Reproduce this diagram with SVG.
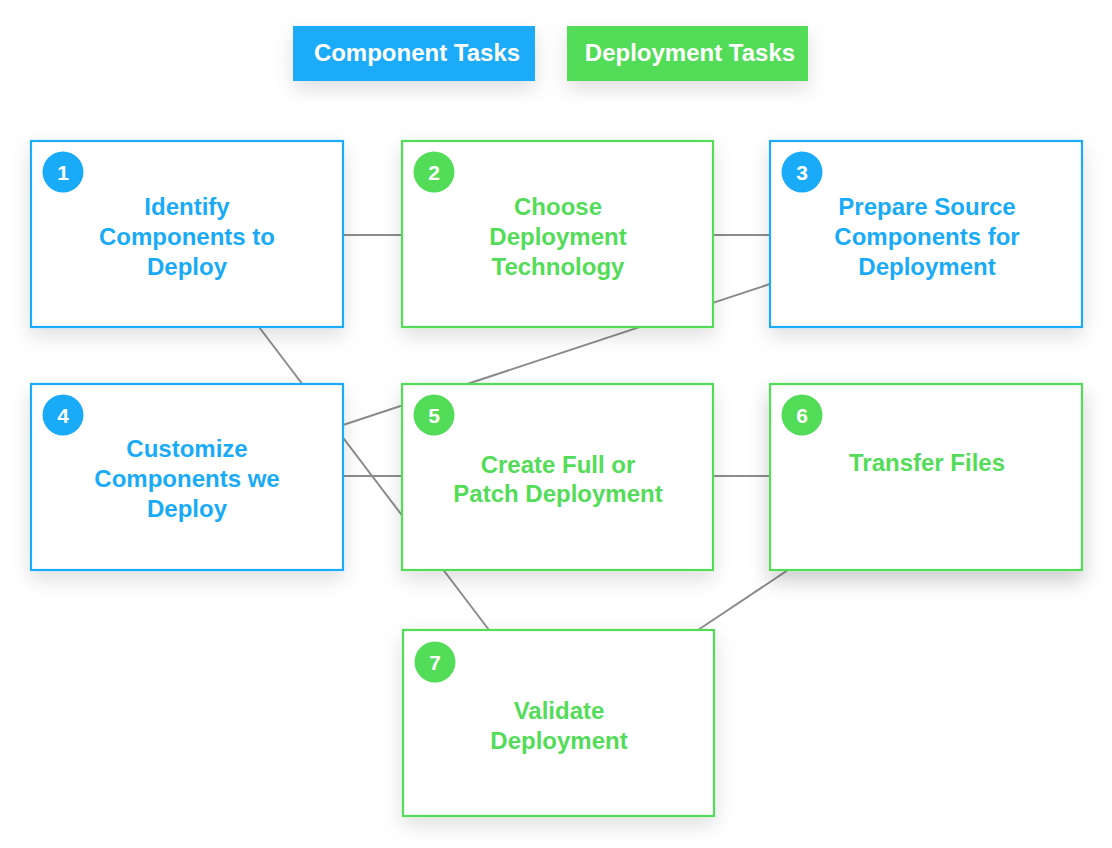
<svg xmlns="http://www.w3.org/2000/svg" width="1112" height="848" viewBox="0 0 1112 848">
<defs>
<filter id="sh" x="-20%" y="-20%" width="140%" height="160%">
<feDropShadow dx="0" dy="8" stdDeviation="10" flood-color="#000" flood-opacity="0.13"/>
</filter>
<filter id="sh2" x="-20%" y="-20%" width="140%" height="160%">
<feDropShadow dx="0" dy="10" stdDeviation="10" flood-color="#000" flood-opacity="0.2"/>
</filter>
<style>
.box{fill:#fff;stroke-width:2.2}
.b{stroke:#1aabf8}
.g{stroke:#53dc58}
.lbl{font-family:"Liberation Sans",Arial,sans-serif;font-weight:bold;font-size:24px;text-anchor:middle}
.tb{fill:#1aabf8}
.tg{fill:#53dc58}
.num{font-family:"Liberation Sans",Arial,sans-serif;font-weight:bold;font-size:21px;fill:#fff;text-anchor:middle}
.cb{fill:#1aabf8}
.cg{fill:#53dc58}
.leg{font-family:"Liberation Sans",Arial,sans-serif;font-weight:bold;font-size:24px;fill:#fff;text-anchor:middle}
.ln{stroke:#8c8c8c;stroke-width:2;fill:none}
</style>
</defs>
<rect width="1112" height="848" fill="#fff"/>
<g id="legend">
<rect x="293" y="26" width="242" height="55" fill="#1aabf8" filter="url(#sh)"/>
<text class="leg" x="417" y="61">Component Tasks</text>
<rect x="567" y="26" width="241" height="55" fill="#53dc58" filter="url(#sh)"/>
<text class="leg" x="690" y="61">Deployment Tasks</text>
</g>
<g id="connectors">
<line class="ln" x1="343" y1="235" x2="402" y2="235"/>
<line class="ln" x1="713" y1="235" x2="770" y2="235"/>
<line class="ln" x1="770" y1="284" x2="343" y2="425"/>
<line class="ln" x1="259" y1="327" x2="489" y2="630"/>
<line class="ln" x1="343" y1="476" x2="402" y2="476"/>
<line class="ln" x1="713" y1="476" x2="770" y2="476"/>
<line class="ln" x1="788" y1="570" x2="698" y2="630"/>
</g>
<g id="node1">
<rect class="box b" x="31" y="141" width="312" height="186" filter="url(#sh)"/>
<circle class="cb" cx="63" cy="172" r="20.5"/>
<text class="num" x="63" y="179.5">1</text>
<text class="lbl tb" x="187" y="215">Identify</text>
<text class="lbl tb" x="187" y="245">Components to</text>
<text class="lbl tb" x="187" y="275">Deploy</text>
</g>
<g id="node2">
<rect class="box g" x="402" y="141" width="311" height="186" filter="url(#sh)"/>
<circle class="cg" cx="434" cy="172" r="20.5"/>
<text class="num" x="434" y="179.5">2</text>
<text class="lbl tg" x="558" y="215">Choose</text>
<text class="lbl tg" x="558" y="245">Deployment</text>
<text class="lbl tg" x="558" y="275">Technology</text>
</g>
<g id="node3">
<rect class="box b" x="770" y="141" width="312" height="186" filter="url(#sh)"/>
<circle class="cb" cx="802" cy="172" r="20.5"/>
<text class="num" x="802" y="179.5">3</text>
<text class="lbl tb" x="927" y="215">Prepare Source</text>
<text class="lbl tb" x="927" y="245">Components for</text>
<text class="lbl tb" x="927" y="275">Deployment</text>
</g>
<g id="node4">
<rect class="box b" x="31" y="384" width="312" height="186" filter="url(#sh)"/>
<circle class="cb" cx="63" cy="415" r="20.5"/>
<text class="num" x="63" y="422.5">4</text>
<text class="lbl tb" x="187" y="457">Customize</text>
<text class="lbl tb" x="187" y="487">Components we</text>
<text class="lbl tb" x="187" y="517">Deploy</text>
</g>
<g id="node5">
<rect class="box g" x="402" y="384" width="311" height="186" filter="url(#sh)"/>
<circle class="cg" cx="434" cy="415" r="20.5"/>
<text class="num" x="434" y="422.5">5</text>
<text class="lbl tg" x="558" y="473">Create Full or</text>
<text class="lbl tg" x="558" y="502">Patch Deployment</text>
</g>
<g id="node6">
<rect class="box g" x="770" y="384" width="312" height="186" filter="url(#sh2)"/>
<circle class="cg" cx="802" cy="415" r="20.5"/>
<text class="num" x="802" y="422.5">6</text>
<text class="lbl tg" x="927" y="471">Transfer Files</text>
</g>
<g id="node7">
<rect class="box g" x="403" y="630" width="311" height="186" filter="url(#sh)"/>
<circle class="cg" cx="435" cy="662" r="20.5"/>
<text class="num" x="435" y="669.5">7</text>
<text class="lbl tg" x="559" y="719">Validate</text>
<text class="lbl tg" x="559" y="749">Deployment</text>
</g>
</svg>
